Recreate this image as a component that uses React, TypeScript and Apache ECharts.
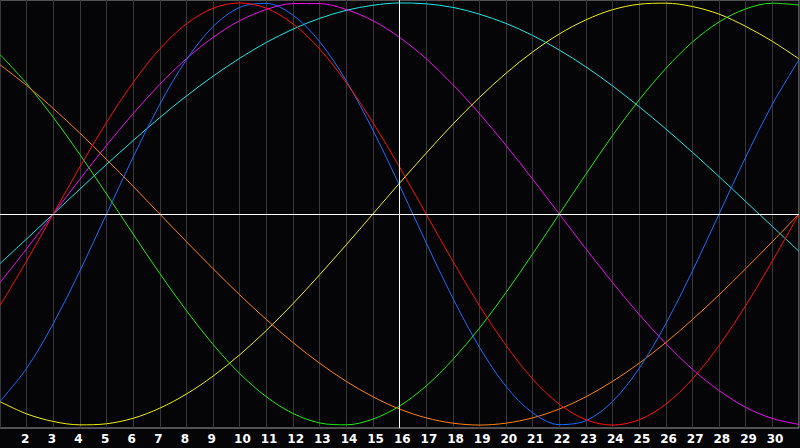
import React, { useEffect, useRef } from "react";
import * as echarts from "echarts";

const days = [1, 2, 3, 4, 5, 6, 7, 8, 9, 10, 11, 12, 13, 14, 15, 16, 17, 18, 19, 20, 21, 22, 23, 24, 25, 26, 27, 28, 29, 30, 31];
const tickLabels = [2, 3, 4, 5, 6, 7, 8, 9, 10, 11, 12, 13, 14, 15, 16, 17, 18, 19, 20, 21, 22, 23, 24, 25, 26, 27, 28, 29, 30];
const todayDay = 16;

const emotional = [-0.434, -0.223, 0, 0.223, 0.434, 0.623, 0.782, 0.901, 0.975, 1, 0.975, 0.901, 0.782, 0.623, 0.434, 0.223, 0, -0.223, -0.434, -0.623, -0.782, -0.901, -0.975, -1, -0.975, -0.901, -0.782, -0.623, -0.434, -0.223, 0];
const physical = [-0.888, -0.731, -0.52, -0.27, 0, 0.27, 0.52, 0.731, 0.888, 0.979, 0.998, 0.942, 0.817, 0.631, 0.398, 0.136, -0.136, -0.398, -0.631, -0.817, -0.942, -0.998, -0.979, -0.888, -0.731, -0.52, -0.27, 0, 0.27, 0.52, 0.731];
const intuitive = [-0.325, -0.165, 0, 0.165, 0.325, 0.476, 0.614, 0.736, 0.837, 0.916, 0.969, 0.997, 0.997, 0.969, 0.916, 0.837, 0.736, 0.614, 0.476, 0.325, 0.165, 0, -0.165, -0.325, -0.476, -0.614, -0.736, -0.837, -0.916, -0.969, -0.997];
const spiritual = [-0.235, -0.118, 0, 0.118, 0.235, 0.348, 0.457, 0.559, 0.653, 0.738, 0.813, 0.876, 0.927, 0.965, 0.989, 1.0, 0.996, 0.979, 0.947, 0.903, 0.846, 0.777, 0.697, 0.607, 0.508, 0.403, 0.292, 0.177, 0.059, -0.059, -0.177];
const aesthetic = [-0.889, -0.947, -0.983, -0.999, -0.994, -0.968, -0.92, -0.853, -0.768, -0.667, -0.552, -0.425, -0.288, -0.146, 0, 0.146, 0.288, 0.425, 0.552, 0.667, 0.768, 0.853, 0.92, 0.968, 0.994, 0.999, 0.983, 0.947, 0.889, 0.818, 0.735];
const intellectual = [0.756, 0.618, 0.458, 0.282, 0.095, -0.095, -0.282, -0.458, -0.618, -0.756, -0.866, -0.945, -0.99, -0.999, -0.972, -0.91, -0.815, -0.69, -0.541, -0.372, -0.189, 0, 0.189, 0.372, 0.541, 0.69, 0.815, 0.91, 0.972, 0.999, 0.99];
const awareness = [0.707, 0.609, 0.5, 0.383, 0.259, 0.131, 0, -0.131, -0.259, -0.383, -0.5, -0.609, -0.707, -0.793, -0.866, -0.924, -0.966, -0.991, -1, -0.991, -0.966, -0.924, -0.866, -0.793, -0.707, -0.609, -0.5, -0.383, -0.259, -0.131, 0];

const seriesDefs = [
  { name: "Spiritual", values: spiritual, color: "#1ee8e8" },
  { name: "Intuitive", values: intuitive, color: "#f010f0" },
  { name: "Aesthetic", values: aesthetic, color: "#f0f010" },
  { name: "Intellectual", values: intellectual, color: "#20ec10" },
  { name: "Awareness", values: awareness, color: "#ff8410" },
  { name: "Physical", values: physical, color: "#1a6cff" },
  { name: "Emotional", values: emotional, color: "#ff1010" },
];

export default function App() {
  const ref = useRef<HTMLDivElement>(null);
  useEffect(() => {
    if (!ref.current) return;
    const chart = echarts.init(ref.current, null, { renderer: "svg" });
    const series: any[] = seriesDefs.map((s) => ({
      name: s.name,
      type: "line",
      xAxisIndex: 0,
      yAxisIndex: 0,
      data: days.map((d, i) => [d, s.values[i]]),
      smooth: 0.33,
      showSymbol: false,
      symbol: "none",
      lineStyle: { color: s.color, width: 1 },
      itemStyle: { color: s.color },
      z: 3,
    }));
    series.unshift({
      name: "cross",
      type: "line",
      data: [],
      z: 2,
      markLine: {
        silent: true,
        symbol: "none",
        label: { show: false },
        lineStyle: { color: "#ffffff", width: 1, type: "solid" },
        data: [{ yAxis: 0 }, { xAxis: todayDay }],
      },
    });
    chart.setOption({
      animation: false,
      backgroundColor: "#050507",
      grid: {
        left: 0,
        right: 1,
        top: 0,
        bottom: 20,
        show: true,
        borderColor: "#a0a0a0",
        borderWidth: 1,
        backgroundColor: "#050507",
      },
      xAxis: [
        {
          type: "value",
          min: 1,
          max: 31,
          interval: 1,
          axisLine: { show: false },
          axisTick: { show: false },
          axisLabel: { show: false },
          splitLine: { show: true, lineStyle: { color: "#38383a", width: 1 } },
        },
        {
          type: "value",
          position: "bottom",
          min: 1.21,
          max: 31.21,
          axisLine: { show: false },
          axisTick: { show: false },
          splitLine: { show: false },
          axisLabel: {
            customValues: tickLabels,
            align: "left",
            color: "#ffffff",
            fontWeight: "bold",
            fontSize: 12,
            fontFamily: "DejaVu Sans",
            margin: 5,
            showMinLabel: true,
            showMaxLabel: true,
          },
        },
      ],
      yAxis: {
        type: "value",
        min: -1.014,
        max: 1.014,
        axisLine: { show: false },
        axisTick: { show: false },
        axisLabel: { show: false },
        splitLine: { show: false },
      },
      series,
    });
    return () => chart.dispose();
  }, []);
  return (
    <div
      ref={ref}
      style={{ position: "fixed", left: 0, top: 0, width: 800, height: 448, background: "#050507" }}
    />
  );
}
